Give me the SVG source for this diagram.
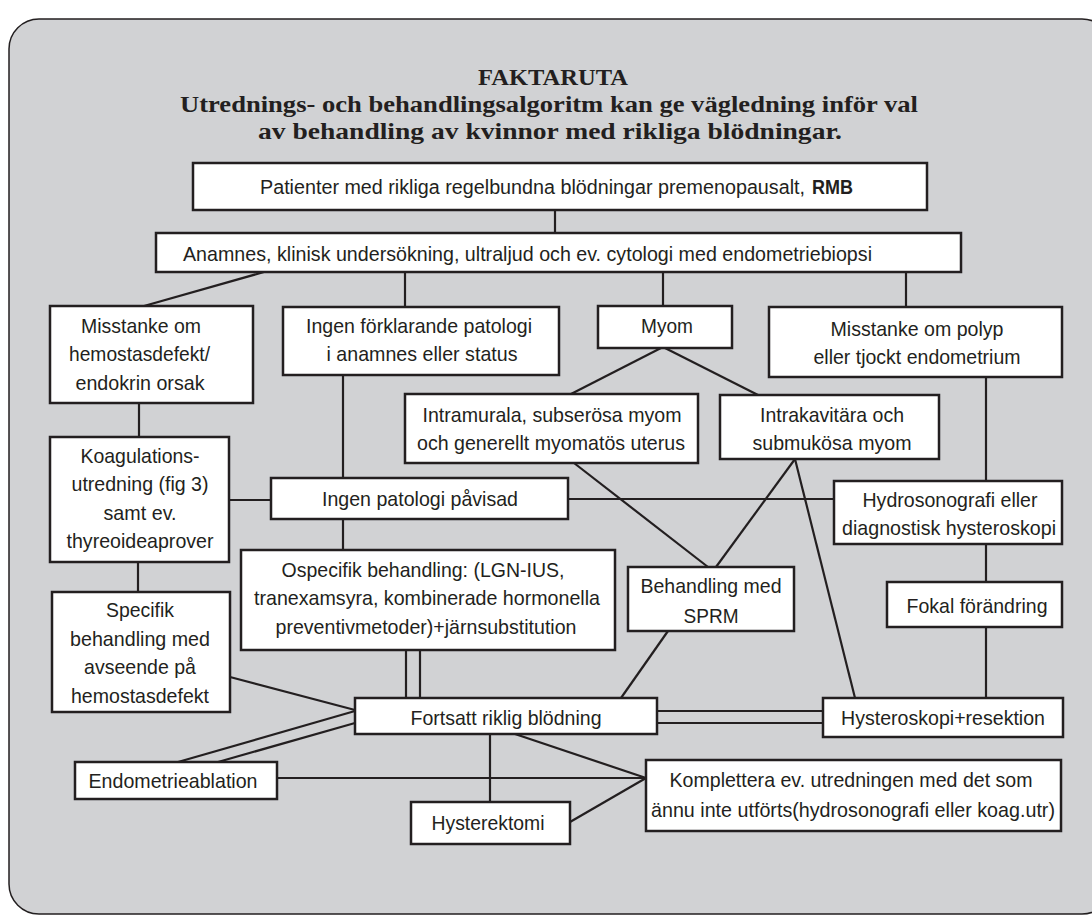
<svg xmlns="http://www.w3.org/2000/svg" width="1092" height="918" viewBox="0 0 1092 918">
<style>
.frame{fill:#d1d2d4;stroke:#231f20;stroke-width:1.5}
.box{fill:#ffffff;stroke:#231f20;stroke-width:2.5}
.t{font-family:"Liberation Sans",Arial,sans-serif;font-size:21px;fill:#231f20;text-anchor:middle}
.s{text-anchor:start;font-size:19.5px}
.title{font-family:"Liberation Serif","Times New Roman",serif;font-size:24px;font-weight:bold;fill:#231f20;text-anchor:middle}
.c line{stroke:#231f20;stroke-width:2.2;fill:none}
</style>
<rect class="frame" x="9" y="19" width="1103" height="895" rx="30" ry="30"/>
<g id="title">
<text class="title" x="553" y="85" textLength="150" lengthAdjust="spacingAndGlyphs">FAKTARUTA</text>
<text class="title" x="549" y="112" textLength="738" lengthAdjust="spacingAndGlyphs">Utrednings- och behandlingsalgoritm kan ge vägledning inför val</text>
<text class="title" x="550" y="139" textLength="584" lengthAdjust="spacingAndGlyphs">av behandling av kvinnor med rikliga blödningar.</text>
</g>
<g class="c" id="connectors">
<line x1="555" y1="210" x2="555" y2="233"/>
<line x1="264" y1="272" x2="144" y2="306"/>
<line x1="405" y1="272" x2="405" y2="307"/>
<line x1="663" y1="272" x2="663" y2="306"/>
<line x1="906" y1="272" x2="906" y2="307"/>
<line x1="661" y1="348" x2="571" y2="394"/>
<line x1="665" y1="348" x2="758" y2="395"/>
<line x1="139" y1="403" x2="139" y2="437"/>
<line x1="343" y1="375" x2="343" y2="478"/>
<line x1="343" y1="519" x2="343" y2="550"/>
<line x1="229" y1="500" x2="271" y2="500"/>
<line x1="568" y1="499" x2="834" y2="499"/>
<line x1="986" y1="377" x2="986" y2="481"/>
<line x1="986" y1="544" x2="986" y2="582"/>
<line x1="986" y1="627" x2="986" y2="698"/>
<line x1="574" y1="463" x2="708" y2="567"/>
<line x1="795" y1="459" x2="716" y2="567"/>
<line x1="795" y1="459" x2="855" y2="698"/>
<line x1="668" y1="631" x2="621" y2="698"/>
<line x1="406" y1="650" x2="406" y2="698"/>
<line x1="420" y1="650" x2="420" y2="698"/>
<line x1="138" y1="562" x2="138" y2="592"/>
<line x1="230" y1="677" x2="355" y2="710"/>
<line x1="355" y1="711" x2="178" y2="762"/>
<line x1="355" y1="723" x2="218" y2="762"/>
<line x1="657" y1="711" x2="823" y2="711"/>
<line x1="657" y1="723" x2="823" y2="723"/>
<line x1="515" y1="734" x2="646" y2="778"/>
<line x1="490" y1="734" x2="490" y2="802"/>
<line x1="277" y1="778" x2="646" y2="778"/>
<line x1="570" y1="822" x2="646" y2="778"/>
</g>
<g id="n1"><rect class="box" x="193" y="163" width="734" height="47"/>
<text class="t s" x="260" y="194" textLength="545" lengthAdjust="spacingAndGlyphs">Patienter med rikliga regelbundna blödningar premenopausalt,</text>
<text class="t s" x="812" y="194" font-weight="bold" textLength="41" lengthAdjust="spacingAndGlyphs">RMB</text></g>
<g id="n2"><rect class="box" x="156" y="233" width="805" height="39"/>
<text class="t" x="527.5" y="261" textLength="689" lengthAdjust="spacingAndGlyphs">Anamnes, klinisk undersökning, ultraljud och ev. cytologi med endometriebiopsi</text></g>
<g id="n3"><rect class="box" x="50" y="306" width="203" height="97"/>
<text class="t" x="141" y="333" textLength="120" lengthAdjust="spacingAndGlyphs">Misstanke om</text>
<text class="t" x="139.5" y="361" textLength="141" lengthAdjust="spacingAndGlyphs">hemostasdefekt/</text>
<text class="t" x="140" y="390" textLength="129" lengthAdjust="spacingAndGlyphs">endokrin orsak</text></g>
<g id="n4"><rect class="box" x="283" y="307" width="276" height="68"/>
<text class="t" x="419" y="333" textLength="226" lengthAdjust="spacingAndGlyphs">Ingen förklarande patologi</text>
<text class="t" x="422" y="361" textLength="191" lengthAdjust="spacingAndGlyphs">i anamnes eller status</text></g>
<g id="n5"><rect class="box" x="598" y="306" width="134" height="42"/>
<text class="t" x="667" y="333" textLength="52" lengthAdjust="spacingAndGlyphs">Myom</text></g>
<g id="n6"><rect class="box" x="769" y="307" width="293" height="70"/>
<text class="t" x="917" y="336" textLength="173" lengthAdjust="spacingAndGlyphs">Misstanke om polyp</text>
<text class="t" x="917" y="364" textLength="207" lengthAdjust="spacingAndGlyphs">eller tjockt endometrium</text></g>
<g id="n7"><rect class="box" x="405" y="394" width="293" height="69"/>
<text class="t" x="552" y="422" textLength="259" lengthAdjust="spacingAndGlyphs">Intramurala, subserösa myom</text>
<text class="t" x="551" y="450" textLength="268" lengthAdjust="spacingAndGlyphs">och generellt myomatös uterus</text></g>
<g id="n8"><rect class="box" x="720" y="395" width="219" height="64"/>
<text class="t" x="832" y="422" textLength="144" lengthAdjust="spacingAndGlyphs">Intrakavitära och</text>
<text class="t" x="832" y="450" textLength="159" lengthAdjust="spacingAndGlyphs">submukösa myom</text></g>
<g id="n9"><rect class="box" x="50" y="437" width="179" height="125"/>
<text class="t" x="140" y="463" textLength="119" lengthAdjust="spacingAndGlyphs">Koagulations-</text>
<text class="t" x="140" y="491" textLength="137" lengthAdjust="spacingAndGlyphs">utredning (fig 3)</text>
<text class="t" x="140" y="520" textLength="73" lengthAdjust="spacingAndGlyphs">samt ev.</text>
<text class="t" x="140" y="548" textLength="147" lengthAdjust="spacingAndGlyphs">thyreoideaprover</text></g>
<g id="n10"><rect class="box" x="271" y="478" width="297" height="41"/>
<text class="t" x="420" y="506" textLength="196" lengthAdjust="spacingAndGlyphs">Ingen patologi påvisad</text></g>
<g id="n11"><rect class="box" x="834" y="481" width="228" height="63"/>
<text class="t" x="950" y="507" textLength="175" lengthAdjust="spacingAndGlyphs">Hydrosonografi eller</text>
<text class="t" x="949" y="535" textLength="214" lengthAdjust="spacingAndGlyphs">diagnostisk hysteroskopi</text></g>
<g id="n12"><rect class="box" x="241" y="550" width="374" height="100"/>
<text class="t" x="423" y="577" textLength="283" lengthAdjust="spacingAndGlyphs">Ospecifik behandling: (LGN-IUS,</text>
<text class="t" x="427" y="605" textLength="346" lengthAdjust="spacingAndGlyphs">tranexamsyra, kombinerade hormonella</text>
<text class="t" x="426" y="634" textLength="301" lengthAdjust="spacingAndGlyphs">preventivmetoder)+järnsubstitution</text></g>
<g id="n13"><rect class="box" x="628" y="567" width="166" height="64"/>
<text class="t" x="711" y="593" textLength="141" lengthAdjust="spacingAndGlyphs">Behandling med</text>
<text class="t" x="711" y="623" textLength="55" lengthAdjust="spacingAndGlyphs">SPRM</text></g>
<g id="n14"><rect class="box" x="887" y="582" width="175" height="45"/>
<text class="t" x="977" y="613" textLength="141" lengthAdjust="spacingAndGlyphs">Fokal förändring</text></g>
<g id="n15"><rect class="box" x="52" y="592" width="178" height="120"/>
<text class="t" x="140" y="617" textLength="68" lengthAdjust="spacingAndGlyphs">Specifik</text>
<text class="t" x="140" y="646" textLength="140" lengthAdjust="spacingAndGlyphs">behandling med</text>
<text class="t" x="140" y="674" textLength="112" lengthAdjust="spacingAndGlyphs">avseende på</text>
<text class="t" x="140" y="703" textLength="138" lengthAdjust="spacingAndGlyphs">hemostasdefekt</text></g>
<g id="n16"><rect class="box" x="355" y="698" width="302" height="36"/>
<text class="t" x="506" y="725" textLength="191" lengthAdjust="spacingAndGlyphs">Fortsatt riklig blödning</text></g>
<g id="n17"><rect class="box" x="823" y="698" width="240" height="39"/>
<text class="t" x="943" y="725" textLength="204" lengthAdjust="spacingAndGlyphs">Hysteroskopi+resektion</text></g>
<g id="n18"><rect class="box" x="75" y="762" width="202" height="37"/>
<text class="t" x="173" y="788" textLength="169" lengthAdjust="spacingAndGlyphs">Endometrieablation</text></g>
<g id="n19"><rect class="box" x="411" y="802" width="159" height="42"/>
<text class="t" x="488" y="830" textLength="113" lengthAdjust="spacingAndGlyphs">Hysterektomi</text></g>
<g id="n20"><rect class="box" x="646" y="760" width="415" height="71"/>
<text class="t" x="851" y="787" textLength="363" lengthAdjust="spacingAndGlyphs">Komplettera ev. utredningen med det som</text>
<text class="t" x="853" y="817" textLength="404" lengthAdjust="spacingAndGlyphs">ännu inte utförts(hydrosonografi eller koag.utr)</text></g>
</svg>
